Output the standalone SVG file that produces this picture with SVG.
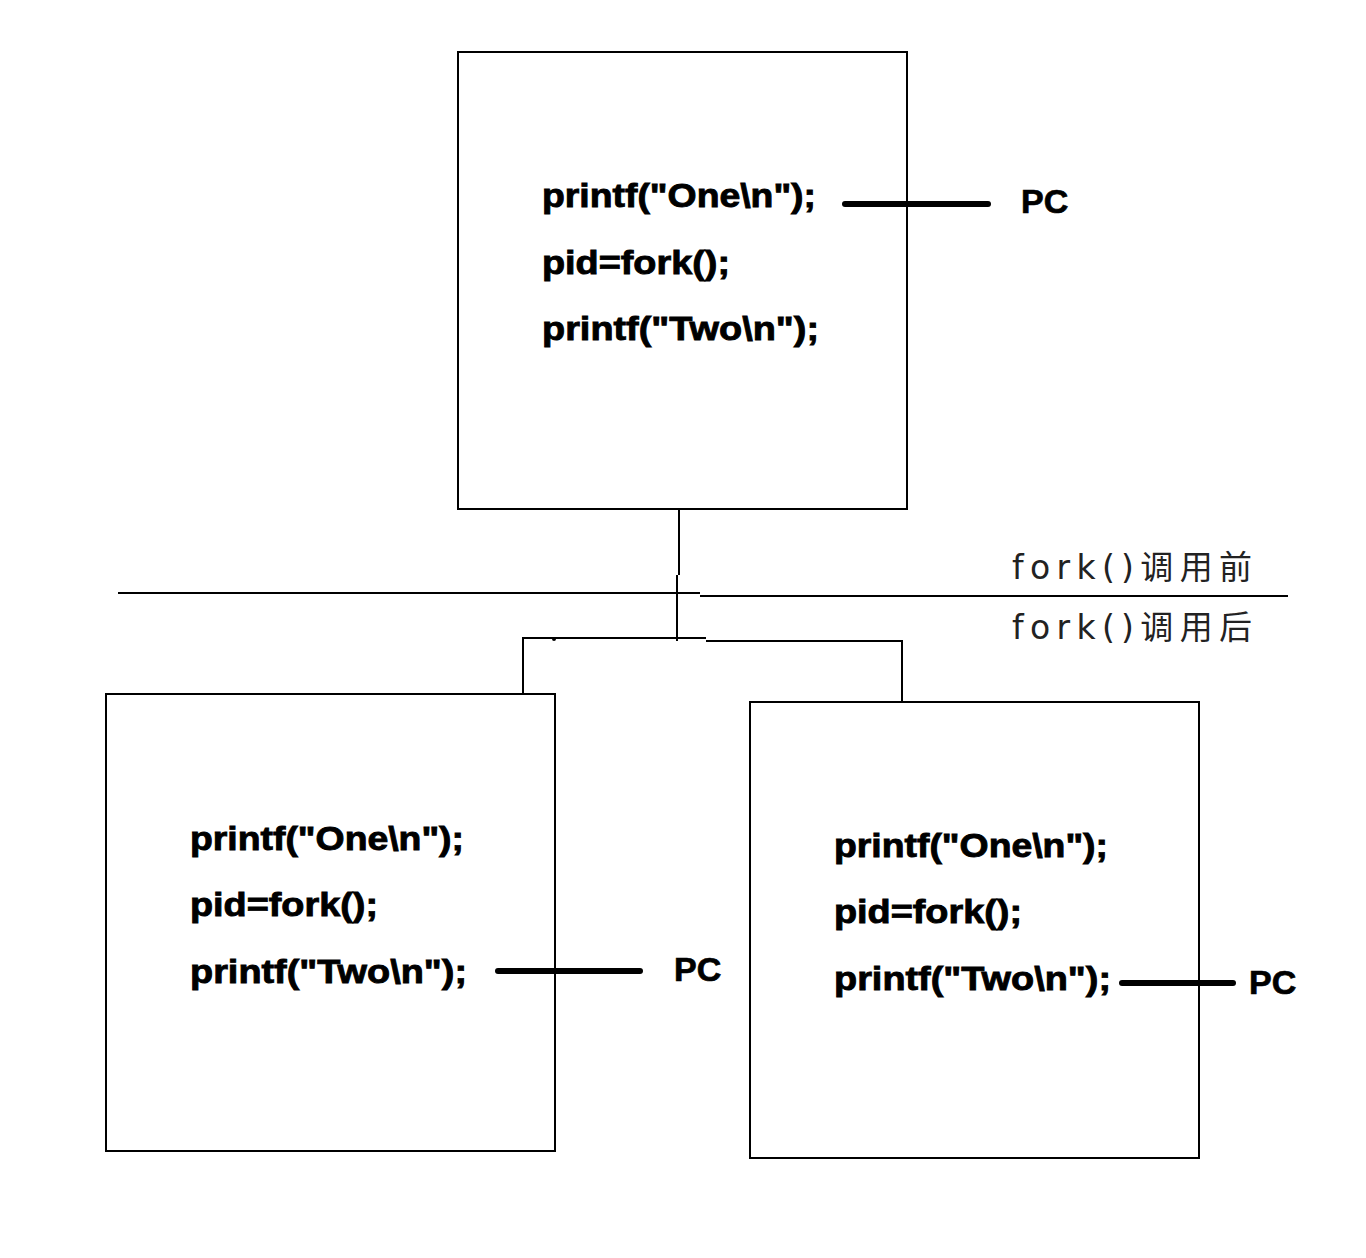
<svg xmlns="http://www.w3.org/2000/svg" width="1366" height="1258" viewBox="0 0 1366 1258">
<style>
.box{fill:none;stroke:#000;stroke-width:2}
.code{font-family:"Liberation Sans",Arial,sans-serif;font-weight:bold;font-size:34px;fill:#000;stroke:#000;stroke-width:0.9}
.pc{font-family:"Liberation Sans",Arial,sans-serif;font-weight:bold;font-size:34px;fill:#000;stroke:#000;stroke-width:0.7}
.pcl{stroke:#000;stroke-width:6;stroke-linecap:round}
.conn{fill:none;stroke:#000;stroke-width:2}
.lbl{font-family:"DejaVu Sans","Noto Sans CJK SC",sans-serif;font-size:33px;fill:#222}
</style>
<rect width="1366" height="1258" fill="#fff"/>
<g id="connectors">
<polyline class="conn" points="679,509 679,575"/>
<polyline class="conn" points="677,575 677,641"/>
<polyline class="conn" points="118,593 700,593"/>
<polyline class="conn" points="700,596 1288,596"/>
<polyline class="conn" points="523,694 523,638 706,638"/>
<polyline class="conn" points="706,641 902,641 902,702"/>
<circle cx="554" cy="639" r="2" fill="#000"/>
</g>
<g id="parent">
<rect class="box" x="458" y="52" width="449" height="457"/>
<text class="code" x="542" y="207" textLength="274" lengthAdjust="spacingAndGlyphs">printf("One\n");</text>
<text class="code" x="542" y="274" textLength="188" lengthAdjust="spacingAndGlyphs">pid=fork();</text>
<text class="code" x="542" y="340" textLength="277" lengthAdjust="spacingAndGlyphs">printf("Two\n");</text>
<line class="pcl" x1="845" y1="204" x2="988" y2="204"/>
<text class="pc" x="1021" y="213">PC</text>
</g>
<g id="child-left">
<rect class="box" x="106" y="694" width="449" height="457"/>
<text class="code" x="190" y="850" textLength="274" lengthAdjust="spacingAndGlyphs">printf("One\n");</text>
<text class="code" x="190" y="916" textLength="188" lengthAdjust="spacingAndGlyphs">pid=fork();</text>
<text class="code" x="190" y="983" textLength="277" lengthAdjust="spacingAndGlyphs">printf("Two\n");</text>
<line class="pcl" x1="498" y1="971" x2="640" y2="971"/>
<text class="pc" x="674" y="981">PC</text>
</g>
<g id="child-right">
<rect class="box" x="750" y="702" width="449" height="456"/>
<text class="code" x="834" y="857" textLength="274" lengthAdjust="spacingAndGlyphs">printf("One\n");</text>
<text class="code" x="834" y="923" textLength="188" lengthAdjust="spacingAndGlyphs">pid=fork();</text>
<text class="code" x="834" y="990" textLength="277" lengthAdjust="spacingAndGlyphs">printf("Two\n");</text>
<line class="pcl" x1="1122" y1="983" x2="1233" y2="983"/>
<text class="pc" x="1249" y="994">PC</text>
</g>
<g id="labels">
<text class="lbl" x="1012" y="579" textLength="240" lengthAdjust="spacing">fork()调用前</text>
<text class="lbl" x="1012" y="639" textLength="240" lengthAdjust="spacing">fork()调用后</text>
</g>
</svg>
